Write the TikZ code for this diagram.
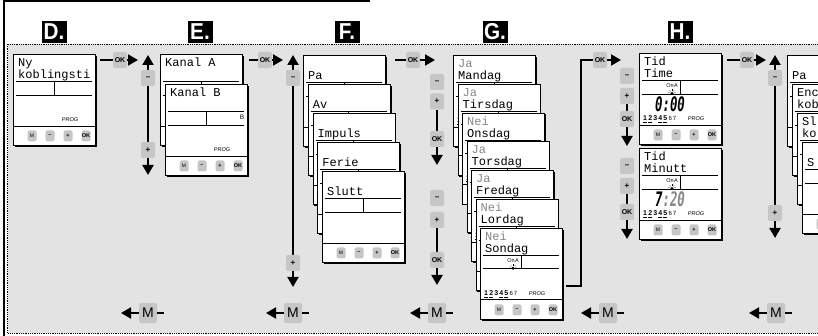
\documentclass[tikz,border=0pt]{standalone}
\usepackage{fontspec}
\usepackage{tikz}
\usetikzlibrary{arrows.meta}
\usetikzlibrary{shadows}
\setmainfont{Liberation Sans}
\newfontfamily\lcdfont{Liberation Mono}
\newfontfamily\segfont{DejaVu Sans Mono}
\definecolor{panel}{RGB}{226,227,226}
\definecolor{keygray}{RGB}{198,198,198}
\definecolor{dim}{RGB}{135,135,135}
\newcommand{\hd}[1]{\scalebox{.9}[1]{#1}}
% one display, drawn from its top left corner
\newcommand{\lcd}[5]{%
  \begin{scope}[shift={(#2)}]
    \node[lcd] (#1) at (0,0) {};
    \node[lcdtxt] (#1-a) at (5,12.5) {#3};
    \node[lcdtxt] (#1-b) at (5,24.5) {#4};
    \draw[rule] (3,27.5) -- (79,27.5) (41,27.5) -- (41,41) (3,41) -- (79,41);
    \draw[rule] (0,72) -- (82,72);
    \node[key,font=\fontsize{5}{5}\selectfont] (#1-m) at (19,82) {M};
    \node[key] (#1-mi) at (37,82) {--};
    \node[key] (#1-pl) at (55,82) {+};
    \node[key] (#1-ok) at (73,82) {OK};
    #5
  \end{scope}}
\newcommand{\prog}[1]{\node[tag] (#1-p) at (57,67.5) {PROG};}
\newcommand{\chan}[2]{\node[tag,font=\fontsize{6.5}{6.5}\selectfont] (#1-ch) at (77,36) {#2};}
\newcommand{\week}[1]{\node[week] (#1-w) at (4,67.5) {\underline{1}\,\underline{2}\,3\,\underline{4}\,\underline{5}\,{\mdseries\fontsize{6}{6}\selectfont 6\,7}};}
\newcommand{\sun}[1]{\node[tag,font=\fontsize{5.5}{5.5}\selectfont] (#1-s) at (33,35) {On\kern.4pt A};
  \fill (33,40.5) circle (1.6);
  \foreach \r in {200,235,270,305,340} \draw[very thin] (33,40.5)++(\r:2.4) -- ++(\r:1.6);}
\newcommand{\clock}[2]{\node[seg] (#1-c) at (31,58.5) {\scalebox{.62}[1]{#2}};}

\begin{document}
\begin{tikzpicture}[x=1pt,y=-1pt,>={Triangle[length=10pt,width=11pt]},
  lcd/.style={draw,line width=1pt,fill=white,minimum width=82pt,minimum height=91pt,inner sep=0,anchor=north west,
    drop shadow={shadow xshift=1.3pt,shadow yshift=-1.3pt,fill=black,opacity=1}},
  lcdtxt/.style={anchor=base west,inner sep=0,font=\lcdfont\fontsize{12}{12}\selectfont},
  rule/.style={line width=.8pt},
  key/.style={fill=keygray,rounded corners=1.5pt,minimum width=9pt,minimum height=11pt,inner sep=0,font=\bfseries\fontsize{5.5}{5.5}\selectfont},
  tag/.style={inner sep=0,anchor=base,font=\itshape\fontsize{5.5}{5.5}\selectfont},
  week/.style={inner sep=0,anchor=base west,font=\bfseries\fontsize{7}{7}\selectfont},
  seg/.style={inner sep=0,anchor=base,font=\segfont\bfseries\itshape\fontsize{20}{20}\selectfont},
  ctrl/.style={fill=keygray,rounded corners=2pt,minimum width=14pt,minimum height=16pt,inner sep=0,font=\bfseries\fontsize{8}{8}\selectfont},
  mkey/.style={ctrl,minimum width=18pt,minimum height=20pt,font=\fontsize{14}{14}\selectfont},
  flow/.style={line width=2pt},
  hdr/.style={fill=black,text=white,inner sep=0,minimum width=25pt,minimum height=22pt,font=\bfseries\fontsize{23}{23}\selectfont}]
  \useasboundingbox (0,0) rectangle (818,336);
  % frame and panel
  \draw[line width=1.5pt] (370,1) -- (4,1) -- (4,336);
  \fill[panel] (7.5,44) rectangle (830,333);
  \draw[densely dotted,line width=.8pt] (830,44) -- (7.5,44) -- (7.5,333) -- (830,333);
  % step letters
  \node[hdr] (hD) at (54,32) {\hd{D.}};
  \node[hdr] (hE) at (200,32) {\hd{E.}};
  \node[hdr] (hF) at (347,32) {\hd{F.}};
  \node[hdr] (hG) at (495,32) {\hd{G.}};
  \node[hdr] (hH) at (680,32) {\hd{H.}};
  \node[hdr] (hI) at (830,32) {\hd{I.}};

  % D
  \lcd{scrD}{13,54}{Ny}{koblingsti}{\prog{scrD}}
  % E
  \lcd{scrEa}{160,54}{Kanal A}{}{\prog{scrEa}}
  \lcd{scrEb}{165,84}{Kanal B}{}{\prog{scrEb}\chan{scrEb}{B}}
  % F
  \foreach \t [count=\i] in {Pa,Av,Impuls,Ferie,Slutt}
    \lcd{scrF\i}{298.25+4.75*\i,26+29*\i}{}{\t}{};
  % G
  \foreach \st/\dy [count=\i] in {Ja/Mandag,Ja/Tirsdag,Nei/Onsdag,Ja/Torsdag,Ja/Fredag,Nei/Lordag,Nei/Sondag}
    \lcd{scrG\i}{448.5+4.5*\i,26.2+28.8*\i}{\color{dim}\st}{\dy}{\sun{scrG\i}\week{scrG\i}\prog{scrG\i}};
  % H
  \lcd{scrH1}{639,53}{Tid}{Time}{\sun{scrH1}\clock{scrH1}{0:00}\week{scrH1}\prog{scrH1}}
  \lcd{scrH2}{639,148}{Tid}{Minutt}{\sun{scrH2}\clock{scrH2}{7{\color{dim}:20}}\week{scrH2}\prog{scrH2}}
  % I
  \foreach \u/\v [count=\i] in {/Pa,Enc/kob,Sl/ko}
    \lcd{scrI\i}{782+5*\i,26+29*\i}{\u}{\v}{};
  \lcd{scrI4}{802,142}{}{S}{}

  % OK steps
  \coordinate (dOut) at (100,60);
  \coordinate (eIn) at (138,60);
  \node[ctrl,font=\bfseries\fontsize{7}{7}\selectfont] (okDE) at (120,60) {OK};
  \draw[flow] (dOut) -- (okDE);
  \draw[flow,->] (okDE) -- (eIn);
  \coordinate (eOut) at (249,60);
  \coordinate (fIn) at (283,60);
  \node[ctrl,font=\bfseries\fontsize{7}{7}\selectfont] (okEF) at (265,60) {OK};
  \draw[flow] (eOut) -- (okEF);
  \draw[flow,->] (okEF) -- (fIn);
  \coordinate (fOut) at (395,60);
  \coordinate (gIn) at (435,60);
  \node[ctrl,font=\bfseries\fontsize{7}{7}\selectfont] (okFG) at (413,60) {OK};
  \draw[flow] (fOut) -- (okFG);
  \draw[flow,->] (okFG) -- (gIn);
  \coordinate (gOut) at (566,286);
  \coordinate (gTurn) at (581,286);
  \coordinate (hIn) at (621,60);
  \node[ctrl,font=\bfseries\fontsize{7}{7}\selectfont] (okGH) at (600,60) {OK};
  \draw[flow] (gOut) -- (gTurn) |- (okGH);
  \draw[flow,->] (okGH) -- (hIn);
  \coordinate (hOut) at (727,60);
  \coordinate (iIn) at (766,60);
  \node[ctrl,font=\bfseries\fontsize{7}{7}\selectfont] (okHI) at (747,60) {OK};
  \draw[flow] (hOut) -- (okHI);
  \draw[flow,->] (okHI) -- (iIn);

  % up / down selectors
  \foreach \n/\x/\a/\b/\p in {E/148/55/175/150,F/293/55/287/263,I/775/55/238/213} {
    \coordinate (\n Up) at (\x,\a);
    \coordinate (\n Down) at (\x,\b);
    \draw[flow,<->] (\n Up) -- (\n Down);
    \node[ctrl] (\n Minus) at (\x,78) {--};
    \node[ctrl] (\n Plus) at (\x,\p) {+};
  }
  % set and confirm
  \foreach \n/\x/\m/\p/\o/\b in {Ga/437/82/101.5/139/165,Gb/437/198/220/260/285,Ha/627/76/96/119/146,Hb/627/166/186/212/239} {
    \coordinate (\n Down) at (\x,\b);
    \node[ctrl] (\n Minus) at (\x,\m) {--};
    \node[ctrl] (\n Plus) at (\x,\p) {+};
    \draw[flow,->] (\n Plus) -- (\n Down);
    \node[ctrl,font=\bfseries\fontsize{7}{7}\selectfont] (\n Ok) at (\x,\o) {OK};
  }
  % back with M
  \foreach \n/\x in {E/148,F/293,G/437,H/608,I/776} {
    \node[mkey] (m\n) at (\x,313) {M};
    \coordinate (m\n l) at (\x-27,313);
    \coordinate (m\n r) at (\x+16,313);
    \draw[flow,->] (m\n) -- (m\n l);
    \draw[flow] (m\n) -- (m\n r);
  }
\end{tikzpicture}
\end{document}
